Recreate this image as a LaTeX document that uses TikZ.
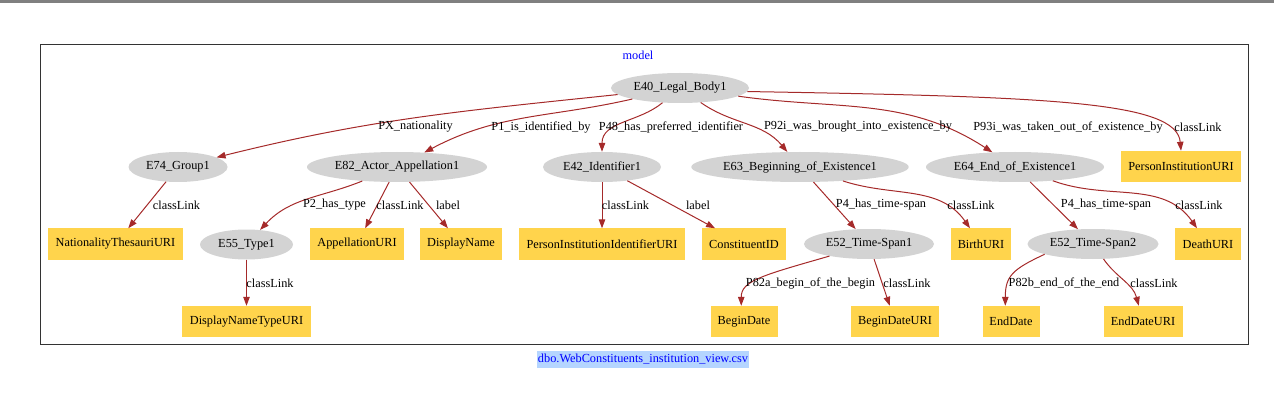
\documentclass[tikz,border=0pt]{standalone}
\usepackage{fontspec}
\setmainfont{Liberation Serif}
\usetikzlibrary{shapes.geometric,arrows.meta}
\definecolor{edgecol}{RGB}{165,42,42}
\definecolor{ellcol}{RGB}{211,211,211}
\definecolor{boxcol}{RGB}{255,212,76}
\definecolor{hilite}{RGB}{181,213,255}
\definecolor{barcol}{RGB}{128,128,128}
\tikzset{
  txt/.style={font=\fontsize{12.3}{14}\selectfont},
  ent/.style={txt, ellipse, fill=ellcol, draw=none, inner sep=0pt, minimum height=30pt},
  lit/.style={txt, rectangle, fill=boxcol, draw=none, inner sep=0pt, minimum height=31pt},
  elab/.style={txt, inner sep=0pt},
  conn/.style={draw=edgecol, line width=1pt, -{Triangle[length=9pt,width=6.5pt]}},
}
\begin{document}
\begin{tikzpicture}[x=1pt,y=1pt]
\useasboundingbox (0,0) rectangle (1274,-406);
\fill[barcol] (0,0) rectangle (1274,-3);
\node[draw=black!80, line width=1pt, minimum width=1208pt, minimum height=300pt, inner sep=0pt] (frame) at (644,-194.5) {};
\node[txt, text=blue] (title) at (638,-55) {model};
\node[txt, text=blue, fill=hilite, inner xsep=1pt, minimum height=17pt] (file) at (643,-359) {dbo.WebConstituents\_institution\_view.csv};

% row 0
\node[ent, minimum width=138pt] (e40) at (680,-88) {E40\_Legal\_Body1};
% row 1
\node[ent, minimum width=99pt] (e74) at (178,-167) {E74\_Group1};
\node[ent, minimum width=180pt] (e82) at (397,-167) {E82\_Actor\_Appellation1};
\node[ent, minimum width=118pt] (e42) at (602,-167) {E42\_Identifier1};
\node[ent, minimum width=217pt] (e63) at (800,-167) {E63\_Beginning\_of\_Existence1};
\node[ent, minimum width=178pt] (e64) at (1015,-167) {E64\_End\_of\_Existence1};
\node[lit, minimum width=120pt] (piu) at (1181,-166.5) {PersonInstitutionURI};
% row 2
\node[lit, minimum width=135pt] (nat) at (115.5,-244) {NationalityThesauriURI};
\node[ent, minimum width=93pt] (e55) at (246.5,-244.5) {E55\_Type1};
\node[lit, minimum width=94pt] (app) at (357,-244) {AppellationURI};
\node[lit, minimum width=82pt] (dn) at (461,-244) {DisplayName};
\node[lit, minimum width=166pt] (piiu) at (602,-244) {PersonInstitutionIdentifierURI};
\node[lit, minimum width=84pt] (cid) at (744,-244) {ConstituentID};
\node[ent, minimum width=130pt] (ts1) at (869,-244) {E52\_Time-Span1};
\node[lit, minimum width=60pt] (birth) at (981,-244) {BirthURI};
\node[ent, minimum width=131pt] (ts2) at (1093,-244) {E52\_Time-Span2};
\node[lit, minimum width=66pt] (death) at (1208,-244) {DeathURI};
% row 3
\node[lit, minimum width=129pt] (dnt) at (246.5,-321.5) {DisplayNameTypeURI};
\node[lit, minimum width=67pt] (bd) at (744,-321.5) {BeginDate};
\node[lit, minimum width=88pt] (bdu) at (895,-321.5) {BeginDateURI};
\node[lit, minimum width=57pt] (ed) at (1011,-321.5) {EndDate};
\node[lit, minimum width=79pt] (edu) at (1143,-321.5) {EndDateURI};

% connectors row 0 -> 1
\draw[conn] (e40) to[out=186, in=14] (e74);
\draw[conn] (e40) to[out=193, in=28] (e82);
\draw[conn] (e40) to[out=220, in=90] (e42);
\draw[conn] (e40) to[out=-35, in=130] (e63);
\draw[conn] (e40) to[out=-8, in=147] (e64);
\draw[conn] (e40.-3) .. controls +(-1:300) and +(95:50) .. (piu.north);
% row 1 -> 2
\draw[conn] (e74) -- (nat);
\draw[conn] (e82) to[out=202, in=47] (e55);
\draw[conn] (e82) -- (app);
\draw[conn] (e82) -- (dn);
\draw[conn] (e42) -- (piiu);
\draw[conn] (e42) -- (cid);
\draw[conn] (e63) -- (ts1);
\draw[conn] (e63) to[out=-18, in=125] (birth);
\draw[conn] (e64) -- (ts2);
\draw[conn] (e64) to[out=-20, in=125] (death);
% row 2 -> 3
\draw[conn] (e55) -- (dnt);
\draw[conn] (ts1.197) .. controls +(196:70) and +(90:25) .. (bd.100);
\draw[conn] (ts1) -- (bdu);
\draw[conn] (ts2.192) .. controls +(205:35) and +(90:30) .. (ed.110);
\draw[conn] (ts2) to[out=-55, in=105] (edu);

% edge labels
\node[elab] (l1) at (415.5,-127) {PX\_nationality};
\node[elab] (l2) at (541,-127) {P1\_is\_identified\_by};
\node[elab] (l3) at (671,-127) {P48\_has\_preferred\_identifier};
\node[elab] (l4) at (858,-127) {P92i\_was\_brought\_into\_existence\_by};
\node[elab] (l5) at (1068,-127) {P93i\_was\_taken\_out\_of\_existence\_by};
\node[elab] (l6) at (1198,-127) {classLink};
\node[elab] (l7) at (176.5,-205) {classLink};
\node[elab] (l8) at (334.5,-205) {P2\_has\_type};
\node[elab] (l9) at (400,-205) {classLink};
\node[elab] (l10) at (448,-205) {label};
\node[elab] (l11) at (625.5,-205) {classLink};
\node[elab] (l12) at (698,-205) {label};
\node[elab] (l13) at (881,-205) {P4\_has\_time-span};
\node[elab] (l14) at (971,-205) {classLink};
\node[elab] (l15) at (1106,-205) {P4\_has\_time-span};
\node[elab] (l16) at (1199,-205) {classLink};
\node[elab] (l17) at (270,-283) {classLink};
\node[elab] (l18) at (810.5,-283) {P82a\_begin\_of\_the\_begin};
\node[elab] (l19) at (907,-283) {classLink};
\node[elab] (l20) at (1064,-283) {P82b\_end\_of\_the\_end};
\node[elab] (l21) at (1154,-283) {classLink};
\end{tikzpicture}
\end{document}
